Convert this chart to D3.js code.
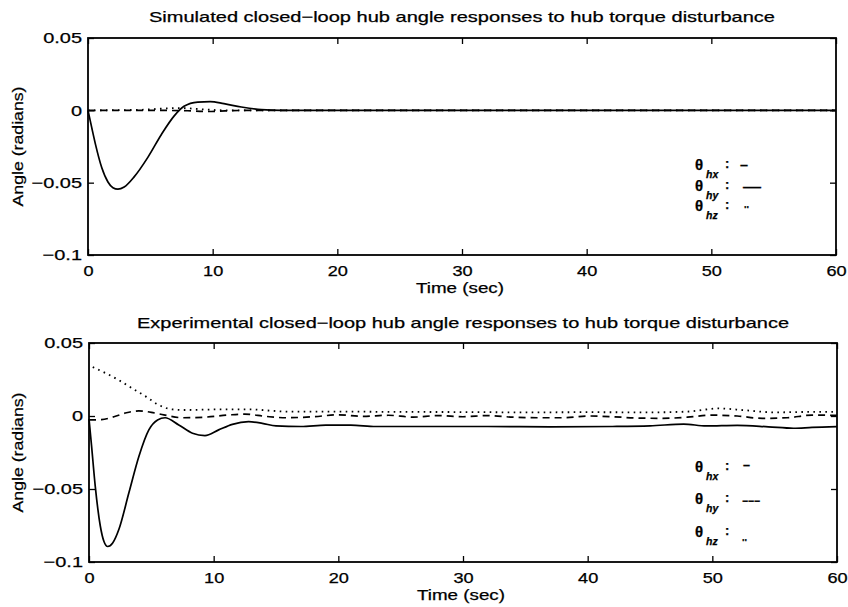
<!DOCTYPE html>
<html>
<head>
<meta charset="utf-8">
<script src="https://cdn.jsdelivr.net/npm/d3@7"></script>
<style>
  body { margin: 0; background: #fff }
  svg  { display: block }
  text { font-family: "Liberation Sans", Arial, Helvetica, sans-serif; fill: #000; stroke: #000; stroke-width: 0.25 }
</style>
</head>
<body>
<svg id="chart" width="848" height="607"></svg>
<script>
// ---- data ----
const xTicks      = [0, 10, 20, 30, 40, 50, 60]
const xTickLabels = ['0', '10', '20', '30', '40', '50', '60']
const yTicks      = [-0.1, -0.05, 0, 0.05]
const yTickLabels = ['−0.1', '−0.05', '0', '0.05']

const titles = [
  'Simulated closed−loop hub angle responses to hub torque disturbance',
  'Experimental closed−loop hub angle responses to hub torque disturbance',
]
const xLabel = 'Time (sec)'
const yLabel = 'Angle (radians)'
const seriesNames = ['hx', 'hy', 'hz']

// simulated  [time, angle]
const simHx = [[0,0],[0.3,-0.012],[0.6,-0.0235],[1.1,-0.0395],[1.6,-0.0495],[2.0,-0.0535],[2.4,-0.0545],
  [2.9,-0.053],[3.7,-0.046],[4.8,-0.0325],[5.9,-0.0165],[6.9,-0.004],[7.7,0.0028],[8.8,0.0057],[9.8,0.006],
  [10.9,0.0046],[12.3,0.0023],[13.9,0.0005],[15.5,0],[20,0],[60,0]]
const simHy = [[0,0],[5,0],[8,-0.0003],[9.5,-0.0008],[11,-0.0004],[13,0],[18,0],[60,0]]
const simHz = [[0,0],[4,0.0003],[6,0.0012],[7.5,0.0016],[9,0.0008],[11,0],[18,0],[60,0]]

// experimental  [time, angle]
const expHx = [[0,-0.002],[0.2,-0.02],[0.5,-0.048],[0.9,-0.075],[1.2,-0.086],[1.5,-0.0894],[1.9,-0.087],
  [2.4,-0.0776],[3.2,-0.0526],[4.0,-0.0277],[4.8,-0.0095],[5.5,-0.0027],[6.1,-0.0012],[7.2,-0.0061],
  [8.3,-0.0118],[9.3,-0.0134],[10.4,-0.0095],[11.5,-0.0057],[12.8,-0.0039],[13.9,-0.005],[15,-0.0068],
  [17,-0.0072],[19,-0.0062],[21,-0.0062],[23,-0.0072],[27,-0.0072],[32,-0.0072],[37,-0.0074],[42,-0.0072],
  [45,-0.0068],[47.7,-0.0055],[49.5,-0.0068],[52,-0.0064],[54.5,-0.0074],[56.5,-0.0084],[58,-0.0078],[60,-0.0073]]
const expHy = [[0,-0.0027],[1,-0.0025],[2,-0.0005],[3,0.0022],[4,0.0035],[5,0.0025],[6,0.0008],[7.5,-0.0012],
  [9.3,-0.0008],[11.2,0.0007],[12.5,0.0013],[14.2,-0.0003],[15.8,-0.0012],[18,-0.0005],[20,0.0008],[22,-0.0002],
  [24,0.0005],[26,-0.0008],[28,0.0003],[30,-0.0005],[32,0.0003],[34,-0.0008],[36,-0.0012],[38,-0.0012],[40,0],
  [42,-0.0005],[44,-0.0014],[46,-0.0016],[48,-0.0008],[50,0.0006],[52,0],[54,-0.0016],[56,-0.0012],[58,0.0006],[60,0.0004]]
const expHz = [[0.3,0.0335],[1.3,0.0295],[2.4,0.0245],[3.5,0.0188],[4.6,0.0131],[5.6,0.0075],[6.7,0.0045],
  [7.7,0.0041],[10.4,0.0045],[13,0.0045],[14.6,0.0036],[16,0.003],[20,0.003],[25,0.0028],[30,0.0027],[35,0.0025],
  [40,0.0026],[45,0.0025],[48,0.003],[50.5,0.0052],[52.5,0.004],[55,0.0025],[58,0.0028],[60,0.0028]]

// ---- layout ----
const DASH = { hx: null, hy: '7,5', hz: '1.6,4.4' }

const panels = [
  { title: titles[0], titleY: 17, titleLen: 626, box: { l: 88, r: 836, t: 38, b: 255 },
    series: { hx: simHx, hy: simHy, hz: simHz },
    legendY: [165, 186, 206], symbols: ['–', '—', '..'], symX: [740, 743, 744], symLen: [8, 18, 5], symDy: [0, 1, -2] },
  { title: titles[1], titleY: 323, titleLen: 652, box: { l: 89, r: 837, t: 343, b: 562 },
    series: { hx: expHx, hy: expHy, hz: expHz },
    legendY: [467, 499, 532], symbols: ['–', '−−−', '..'], symX: [743, 742, 742], symLen: [7, 18, 5], symDy: [-2, 2, 5] },
]

const svg = d3.select('#chart')

function stretch(sel, k) {
  sel.each(function () {
    const w = this.getComputedTextLength()
    this.setAttribute('textLength', w * k)
    this.setAttribute('lengthAdjust', 'spacingAndGlyphs')
  })
}

panels.forEach(p => {
  const { l, r, t, b } = p.box
  const x = d3.scaleLinear().domain([0, 60]).range([l, r])
  const y = d3.scaleLinear().domain([-0.1, 0.05]).range([b, t])
  const g = svg.append('g')

  // inward ticks on all four sides
  const styleAxis = (ax, k, size) => {
    ax.select('.domain').remove()
    ax.selectAll('line').attr('stroke', '#000').attr('stroke-width', 1.3)
    ax.attr('font-size', size || 15).attr('font-family', '"Liberation Sans", Arial, sans-serif')
    ax.selectAll('text').attr('fill', '#000')
    if (k) stretch(ax.selectAll('text'), k)
  }

  const axB = g.append('g').attr('transform', `translate(0,${b})`)
    .call(d3.axisBottom(x).tickValues(xTicks).tickFormat((d, i) => xTickLabels[i]).tickSize(-6).tickPadding(11))
  styleAxis(axB, 1.25, 14.5)
  const axT = g.append('g').attr('transform', `translate(0,${t})`)
    .call(d3.axisTop(x).tickValues(xTicks).tickFormat('').tickSize(-6))
  styleAxis(axT)
  const axL = g.append('g').attr('transform', `translate(${l},0)`)
    .call(d3.axisLeft(y).tickValues(yTicks).tickFormat((d, i) => yTickLabels[i]).tickSize(-6).tickPadding(6))
  styleAxis(axL, 1.33)
  const axR = g.append('g').attr('transform', `translate(${r},0)`)
    .call(d3.axisRight(y).tickValues(yTicks).tickFormat('').tickSize(-6))
  styleAxis(axR)

  // curves
  const line = d3.line().x(d => x(d[0])).y(d => y(d[1])).curve(d3.curveMonotoneX)
  ;['hz', 'hy', 'hx'].forEach(k => {
    g.append('path').datum(p.series[k])
      .attr('d', line)
      .attr('fill', 'none')
      .attr('stroke', '#000')
      .attr('stroke-width', k === 'hz' ? 1.8 : 1.7)
      .attr('stroke-dasharray', DASH[k])
  })

  // box
  g.append('rect').attr('x', l).attr('y', t).attr('width', r - l).attr('height', b - t)
    .attr('fill', 'none').attr('stroke', '#000').attr('stroke-width', 1.8)

  // titles and labels
  const cx = (l + r) / 2
  g.append('text').attr('x', cx).attr('y', p.titleY).attr('dy', '0.35em')
    .attr('text-anchor', 'middle').attr('font-size', 15)
    .attr('textLength', p.titleLen).attr('lengthAdjust', 'spacingAndGlyphs')
    .text(p.title)
  g.append('text').attr('x', cx - 2).attr('y', b + 33).attr('dy', '0.35em')
    .attr('text-anchor', 'middle').attr('font-size', 14.5)
    .attr('textLength', 88).attr('lengthAdjust', 'spacingAndGlyphs')
    .text(xLabel)
  g.append('text')
    .attr('transform', `translate(18,${(t + b) / 2}) rotate(-90)`)
    .attr('dy', '0.35em').attr('text-anchor', 'middle').attr('font-size', 15.5)
    .attr('textLength', 120).attr('lengthAdjust', 'spacingAndGlyphs')
    .text(yLabel)

  // hand-placed legend: θ with subscript, colon, line symbol
  seriesNames.forEach((name, i) => {
    const cy = p.legendY[i]
    const lg = g.append('g')
    lg.append('text').attr('x', 695).attr('y', cy + 5)
      .attr('font-family', '"Liberation Serif", "Times New Roman", serif')
      .attr('font-weight', 'bold').attr('font-size', 15).text('θ')
    lg.append('text').attr('x', 706).attr('y', cy + 12.5)
      .attr('font-family', '"Liberation Serif", "Times New Roman", serif')
      .attr('font-style', 'italic').attr('font-weight', 'bold').attr('font-size', 10.5).text(name)
    lg.append('text').attr('x', 725).attr('y', cy + 3)
      .attr('font-weight', 'bold').attr('font-size', 13).text(':')
    lg.append('text').attr('x', p.symX[i]).attr('y', cy + 4 + p.symDy[i])
      .attr('font-weight', 'bold').attr('font-size', 12)
      .attr('textLength', p.symLen[i]).attr('lengthAdjust', 'spacingAndGlyphs')
      .text(p.symbols[i])
  })
})
</script>
</body>
</html>
